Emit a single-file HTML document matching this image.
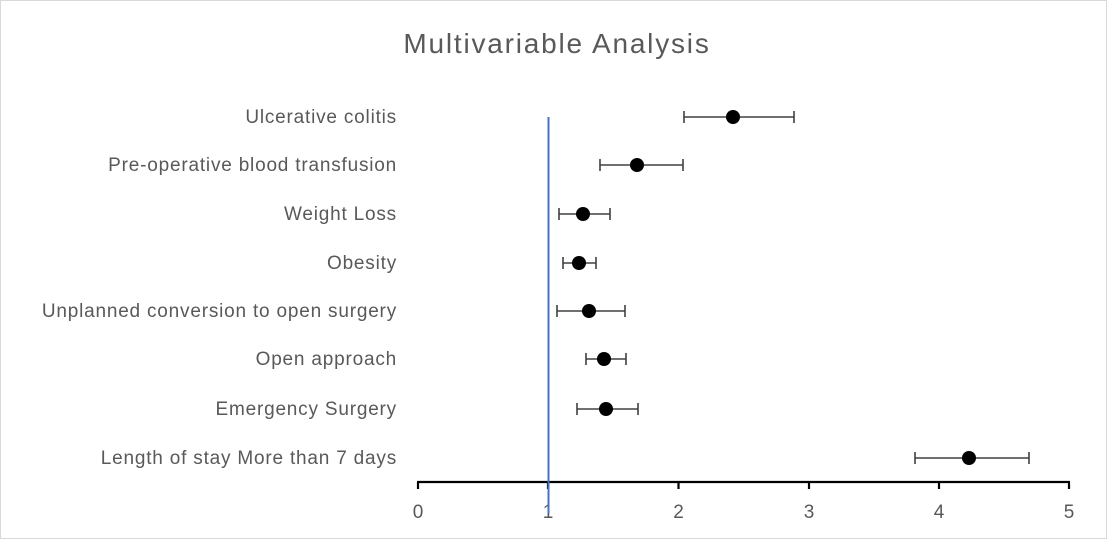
<!DOCTYPE html>
<html><head><style>body{margin:0;background:#fff}</style></head><body>
<svg width="1114" height="544" xmlns="http://www.w3.org/2000/svg" font-family="Liberation Sans, sans-serif">
<rect x="0.5" y="0.5" width="1106" height="538" fill="#fff" stroke="#d9d9d9"/>
<text x="557" y="53" text-anchor="middle" font-size="28" letter-spacing="1.8" fill="#595959">Multivariable Analysis</text>
<g font-size="19" letter-spacing="0.8" fill="#595959" text-anchor="end">
<text x="397" y="123">Ulcerative colitis</text>
<text x="397" y="171">Pre-operative blood transfusion</text>
<text x="397" y="220">Weight Loss</text>
<text x="397" y="269">Obesity</text>
<text x="397" y="317">Unplanned conversion to open surgery</text>
<text x="397" y="365">Open approach</text>
<text x="397" y="415">Emergency Surgery</text>
<text x="397" y="464">Length of stay More than 7 days</text>
</g>
<g stroke="#000" stroke-width="2.2" fill="none">
<line x1="417" y1="482" x2="1070" y2="482"/>
<line x1="418" y1="482" x2="418" y2="489"/><line x1="548" y1="482" x2="548" y2="489"/>
<line x1="678.5" y1="482" x2="678.5" y2="489"/><line x1="809" y1="482" x2="809" y2="489"/>
<line x1="939" y1="482" x2="939" y2="489"/><line x1="1069" y1="482" x2="1069" y2="489"/>
</g>
<g font-size="19" fill="#595959" text-anchor="middle">
<text x="418" y="518">0</text><text x="548" y="518">1</text><text x="678.5" y="518">2</text>
<text x="809" y="518">3</text><text x="939" y="518">4</text><text x="1069" y="518">5</text>
</g>
<line x1="548.5" y1="117" x2="548.5" y2="514" stroke="#4472c4" stroke-width="2"/>
<g stroke="#404040" stroke-width="1.6">
<path d="M684 117H794M684 111V123M794 111V123"/>
<path d="M600 165H683M600 159V171M683 159V171"/>
<path d="M559 214H610M559 208V220M610 208V220"/>
<path d="M563 263H596M563 257V269M596 257V269"/>
<path d="M557 311H625M557 305V317M625 305V317"/>
<path d="M586 359H626M586 353V365M626 353V365"/>
<path d="M577 409H638M577 403V415M638 403V415"/>
<path d="M915 458H1029M915 452V464M1029 452V464"/>
</g>
<g fill="#000">
<circle cx="733" cy="117" r="7"/><circle cx="637" cy="165" r="7"/>
<circle cx="583" cy="214" r="7"/><circle cx="579" cy="263" r="7"/>
<circle cx="589" cy="311" r="7"/><circle cx="604" cy="359" r="7"/>
<circle cx="606" cy="409" r="7"/><circle cx="969" cy="458" r="7"/>
</g>
</svg>
</body></html>
